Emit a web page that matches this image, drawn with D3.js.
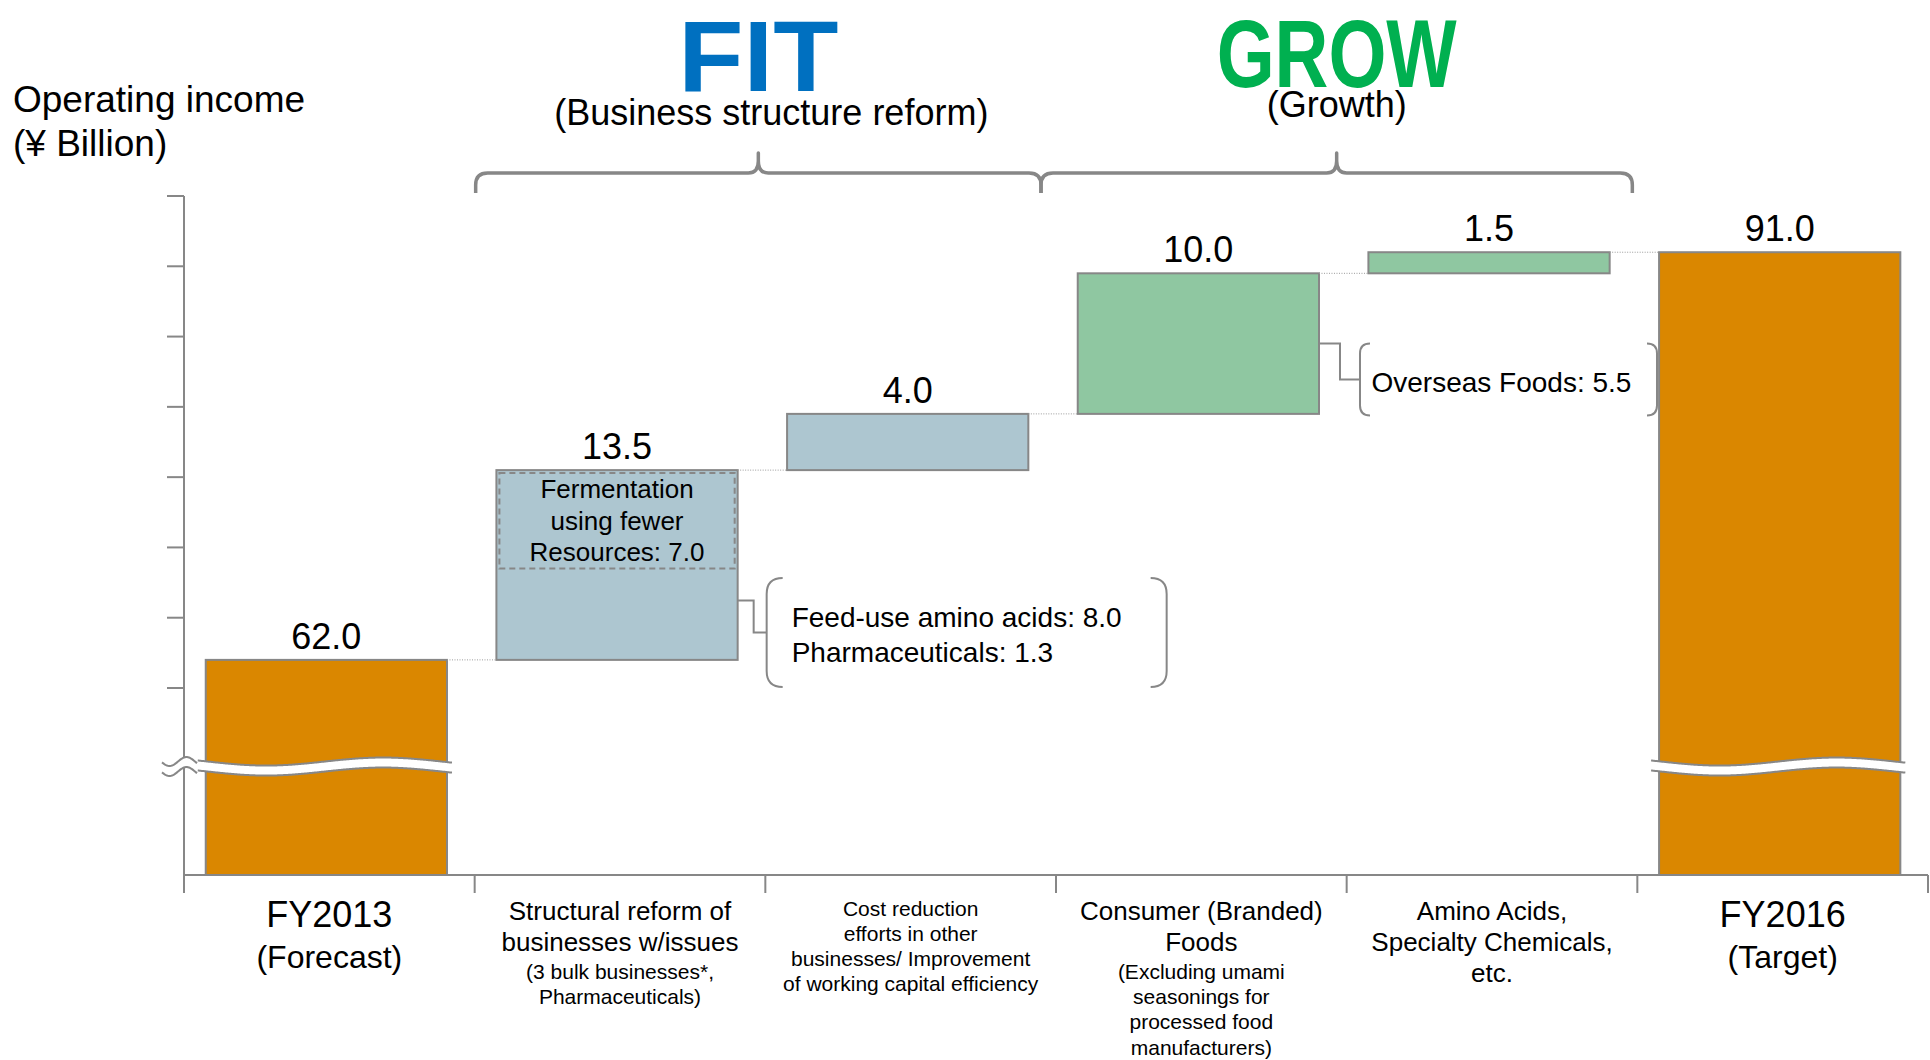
<!DOCTYPE html>
<html>
<head>
<meta charset="utf-8">
<script src="https://cdn.jsdelivr.net/npm/d3@7"></script>
<style>
  html, body { margin: 0; padding: 0; background: #fff; }
  svg { display: block; font-family: "Liberation Sans", Arial, Helvetica, sans-serif; }
</style>
</head>
<body>
<svg id="chart" width="1930" height="1060"></svg>
<script>
// Operating income bridge, FY2013 forecast to FY2016 target (¥ billion)
const categories = ["FY2013", "Structural reform", "Cost reduction", "Consumer Foods", "Amino Acids", "FY2016"];
const kinds = ["total", "fit", "fit", "grow", "grow", "total"];
const values = [62.0, 13.5, 4.0, 10.0, 1.5, 91.0];
const valueLabels = ["62.0", "13.5", "4.0", "10.0", "1.5", "91.0"];
const yTicks = [60, 65, 70, 75, 80, 85, 90, 95];

const categoryHeads = [
  ["FY2013", "(Forecast)"],
  ["Structural reform of", "businesses w/issues"],
  [],
  ["Consumer (Branded)", "Foods"],
  ["Amino Acids,", "Specialty Chemicals,", "etc."],
  ["FY2016", "(Target)"]
];
const categoryNotes = [
  [],
  ["(3 bulk businesses*,", "Pharmaceuticals)"],
  ["Cost reduction", "efforts in other", "businesses/ Improvement", "of working capital efficiency"],
  ["(Excluding umami", "seasonings for", "processed food", "manufacturers)"],
  [],
  []
];

// breakdown of the structural-reform step
const insetLines = ["Fermentation", "using fewer", "Resources: 7.0"];
const insetValue = 7.0;
const reformNotes = ["Feed-use amino acids: 8.0", "Pharmaceuticals: 1.3"];
const foodsNotes = ["Overseas Foods: 5.5"];

const phases = ["FIT", "GROW"];
const phaseSubtitles = ["(Business structure reform)", "(Growth)"];
const axisTitle = ["Operating income", "(¥ Billion)"];

// ---------- layout ----------
const svg = d3.select("#chart");
const gray = "#878787";
const fills = { total: "#DA8700", fit: "#ADC6D0", grow: "#8FC7A1" };
const phaseColors = ["#0070C0", "#00B050"];

const y = d3.scaleLinear().domain([60, 95]).range([688, 196]);
const baseY = 875;
const x = d3.scaleBand().domain(categories).range([184, 1928])
  .paddingInner(0.17).paddingOuter(0.085).align(0.44);
const bw = x.bandwidth();
const step = x.step();
const x0 = x.range()[0];
const boundary = i => x0 + i * step;

// running totals for the waterfall
let cum = 0;
const bars = values.map((v, i) => {
  let lo, hi;
  if (kinds[i] === "total") { lo = null; hi = v; cum = v; }
  else { lo = cum; hi = cum + v; cum = hi; }
  return { cat: categories[i], kind: kinds[i], lo, hi, label: valueLabels[i], i };
});

// ---------- axes ----------
const gAxis = svg.append("g");
gAxis.append("line")
  .attr("x1", x0).attr("x2", x0)
  .attr("y1", y(d3.max(yTicks))).attr("y2", baseY)
  .attr("stroke", gray).attr("stroke-width", 2);
gAxis.selectAll(".ytick").data(yTicks).join("line")
  .attr("x1", x0 - 17).attr("x2", x0)
  .attr("y1", d => y(d)).attr("y2", d => y(d))
  .attr("stroke", gray).attr("stroke-width", 2);
gAxis.append("line")
  .attr("x1", x0).attr("x2", x.range()[1])
  .attr("y1", baseY).attr("y2", baseY)
  .attr("stroke", gray).attr("stroke-width", 2);
gAxis.selectAll(".xtick").data(d3.range(categories.length + 1)).join("line")
  .attr("x1", d => boundary(d)).attr("x2", d => boundary(d))
  .attr("y1", baseY).attr("y2", baseY + 18)
  .attr("stroke", gray).attr("stroke-width", 2);

// ---------- bars ----------
const barTop = b => y(b.hi);
const barBottom = b => (b.lo === null ? baseY : y(b.lo));

svg.append("g").selectAll("rect").data(bars).join("rect")
  .attr("x", d => x(d.cat))
  .attr("y", d => barTop(d))
  .attr("width", bw)
  .attr("height", d => barBottom(d) - barTop(d))
  .attr("fill", d => fills[d.kind])
  .attr("stroke", gray).attr("stroke-width", 2);

// dotted level connectors between consecutive bars
svg.append("g").selectAll("line").data(bars.slice(0, -1)).join("line")
  .attr("x1", d => x(d.cat) + bw)
  .attr("x2", d => x(categories[d.i + 1]))
  .attr("y1", d => y(d.hi)).attr("y2", d => y(d.hi))
  .attr("stroke", "#9a9a9a").attr("stroke-width", 1)
  .attr("stroke-dasharray", "1,1.5");

// value labels
svg.append("g").selectAll("text").data(bars).join("text")
  .attr("x", d => x(d.cat) + bw / 2)
  .attr("y", d => y(d.hi) - 11)
  .attr("text-anchor", "middle")
  .attr("font-size", 36)
  .attr("fill", "#000")
  .text(d => d.label);

// ---------- dashed inset within the structural-reform step ----------
const reform = bars[1];
const insetTop = y(reform.hi);
const insetBottom = y(reform.hi - insetValue);
svg.append("rect")
  .attr("x", x(reform.cat) + 3).attr("y", insetTop + 3)
  .attr("width", bw - 6).attr("height", insetBottom - insetTop - 3)
  .attr("fill", "none").attr("stroke", gray).attr("stroke-width", 2)
  .attr("stroke-dasharray", "6,4");
svg.append("g").selectAll("text").data(insetLines).join("text")
  .attr("x", x(reform.cat) + bw / 2)
  .attr("y", (d, i) => insetTop + 28 + i * 31.5)
  .attr("text-anchor", "middle").attr("font-size", 26).attr("fill", "#000")
  .text(d => d);

// ---------- callouts ----------
function callout(bar, anchorY, run1, drop, gap, boxW, boxH, pad, radius, lines) {
  const bx = x(bar.cat) + bw;
  const cy = anchorY + drop;
  const left = bx + gap;
  const g = svg.append("g");
  g.append("path")
    .attr("d", `M${bx},${anchorY}H${bx + run1}V${cy}H${left}`)
    .attr("fill", "none").attr("stroke", gray).attr("stroke-width", 2);
  const top = cy - boxH / 2, bot = cy + boxH / 2, right = left + boxW, r = radius;
  g.append("path")
    .attr("d", `M${left + r},${top}Q${left},${top} ${left},${top + r}V${bot - r}Q${left},${bot} ${left + r},${bot}` +
               `M${right - r},${top}Q${right},${top} ${right},${top + r}V${bot - r}Q${right},${bot} ${right - r},${bot}`)
    .attr("fill", "none").attr("stroke", gray).attr("stroke-width", 2);
  const n = lines.length;
  g.selectAll("text").data(lines).join("text")
    .attr("x", left + pad)
    .attr("y", (d, i) => cy + 12 + (i - (n - 1) / 2) * 35)
    .attr("font-size", 28).attr("fill", "#000")
    .text(d => d);
}
const lowerTop = insetBottom, lowerBot = y(reform.lo);
callout(reform, lowerTop + 0.35 * (lowerBot - lowerTop), 16, 32, 29, 400, 109, 25, 16, reformNotes);
const foods = bars[3];
callout(foods, (y(foods.hi) + y(foods.lo)) / 2, 21, 36, 41, 297, 72, 11.5, 10, foodsNotes);

// ---------- axis break marks ----------
const breakY = y(60) + (baseY - y(60)) * 0.42;
const half = 5;
function band(xa, xb, f) {
  const xs = d3.range(xa, xb, 1).concat([xb]);
  const topPts = xs.map(v => [v, breakY - half + f(v)]);
  const botPts = xs.map(v => [v, breakY + half + f(v)]);
  const line = d3.line();
  const g = svg.append("g");
  g.append("path").attr("d", line(topPts.concat(botPts.slice().reverse())) + "Z")
    .attr("fill", "#fff").attr("stroke", "none");
  g.append("path").attr("d", line(topPts)).attr("fill", "none").attr("stroke", gray).attr("stroke-width", 2);
  g.append("path").attr("d", line(botPts)).attr("fill", "none").attr("stroke", gray).attr("stroke-width", 2);
}
bars.filter(b => b.kind === "total").forEach(b => {
  const bl = x(b.cat);
  band(bl - 8, bl + bw + 5, v => -4 * Math.sin(2 * Math.PI * (v - (bl + 119)) / 234));
});
// tilde across the value axis
band(x0 - 22, x0 + 13, v => -4.5 * Math.sin(2 * Math.PI * (v - (x0 - 6)) / 34));

// ---------- category labels ----------
categories.forEach((c, i) => {
  const cx = boundary(i) + step / 2;
  const items = [];
  categoryHeads[i].forEach((t, k) => {
    const size = kinds[i] === "total" ? (k === 0 ? 36 : 32) : 26;
    items.push({ t, size });
  });
  categoryNotes[i].forEach(t => items.push({ t, size: 21 }));
  let yy = 0, prev = null;
  items.forEach(it => {
    yy = prev === null ? baseY + 25 + 0.75 * it.size : yy + 0.6 * prev + 0.6 * it.size;
    it.y = yy; prev = it.size;
  });
  svg.append("g").selectAll("text").data(items).join("text")
    .attr("x", cx).attr("y", d => d.y)
    .attr("text-anchor", "middle").attr("font-size", d => d.size).attr("fill", "#000")
    .text(d => d.t);
});

// ---------- phase braces and titles ----------
const braceBottom = 193, braceLine = 173, braceTip = 153;
const junction = boundary(3) - 15;
const spans = [[boundary(1) + 1, junction], [junction, boundary(5) - 5]];
const titleSize = [100, 96], titleBase = [91, 87], titleWidth = [160, 240];
spans.forEach(([a, b], k) => {
  const tx = (a + b) / 2;
  const r = 12;
  const d = `M${a},${braceBottom}V${braceLine + r}Q${a},${braceLine} ${a + r},${braceLine}` +
            `H${tx - 10}Q${tx},${braceLine} ${tx},${braceLine - 12}V${braceTip}V${braceLine - 12}` +
            `Q${tx},${braceLine} ${tx + 10},${braceLine}H${b - r}Q${b},${braceLine} ${b},${braceLine + r}V${braceBottom}`;
  svg.append("path").attr("d", d)
    .attr("fill", "none").attr("stroke", gray).attr("stroke-width", 3.5)
    .attr("stroke-linejoin", "round");

  svg.append("text")
    .attr("x", tx).attr("y", titleBase[k])
    .attr("text-anchor", "middle")
    .attr("font-size", titleSize[k]).attr("font-weight", "bold")
    .attr("fill", phaseColors[k])
    .attr("textLength", titleWidth[k]).attr("lengthAdjust", "spacingAndGlyphs")
    .text(phases[k]);
  svg.append("text")
    .attr("x", tx + (k === 0 ? 13 : 0)).attr("y", k === 0 ? 125 : 117)
    .attr("text-anchor", "middle").attr("font-size", 36).attr("fill", "#000")
    .text(phaseSubtitles[k]);
});

// ---------- value axis title ----------
svg.append("g").selectAll("text").data(axisTitle).join("text")
  .attr("x", 13).attr("y", (d, i) => 112 + i * 44)
  .attr("font-size", 37).attr("fill", "#000")
  .text(d => d);
</script>
</body>
</html>
